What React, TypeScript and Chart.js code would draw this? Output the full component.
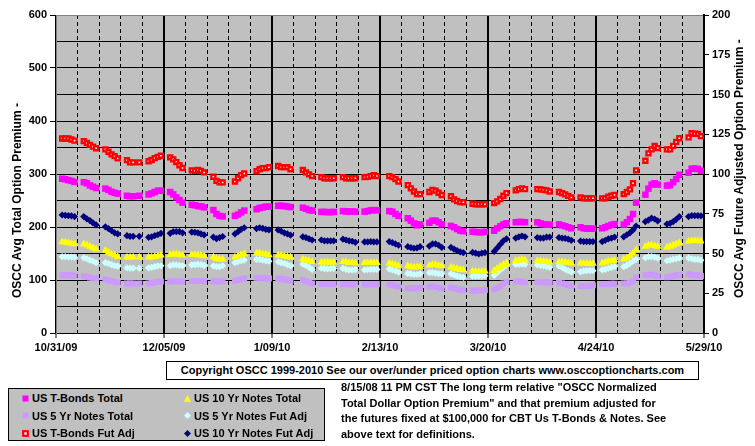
import { useEffect, useRef } from 'react';
import { Chart, registerables } from 'chart.js';

Chart.register(...registerables);

// x axis: days after Sat 10/31/09; labels every 5 weeks
const xTickLabels = ['10/31/09', '12/05/09', '1/09/10', '2/13/10', '3/20/10', '4/24/10', '5/29/10'];
const WEEK_COUNT = 30;
// trading days Mon..Fri of each week (holidays carry null values)
const tradingDays: number[] = [];
for (let w = 0; w < WEEK_COUNT; w++) for (let d = 0; d < 5; d++) tradingDays.push(2 + 7 * w + d);

// Left axis (Total Option Premium)
const tBondsTotal = [
  291, 290, 288.5, 287, 285, 284.5, 282.5, 278.5, 276, 273.5, 272.5, 270, 266.5, 264.5, 263,
  259, 258, 258, null, 259, 261.5, 263.5, 266, 268.5, 268.5, 266, 261.5, 256, 251, 246,
  242, 241, 239.5, 239, 237, 232, 224.5, 221, 220, null, 221, 223.5, 227.5, 231, null,
  233.5, 236, 237, 238.5, 238.5, 240, 240, 239.5, 238.5, 237.5, null, 236.5, 234.5, 232, 231,
  228.5, 228.5, 228, 228, 228.5, 230, 229.5, 229, 229, 229, 229, 230, 231.5, 232, 231.5,
  null, 230, 229, 224.5, 221, 216.5, 212, 207, 203, 205, 208, 212, 212, 209, 205,
  202, 199.5, 196, 193, 192, 191, 190.5, 190, 190, 191, 193, 197.5, 201.5, 205, 207,
  209, 209.5, 209.5, 209, null, 209, 207, 205, 204.5, 204.5, 205, 203, 201.5, 199.5, 197.5,
  199.5, 197.5, 197, 197, 197, 197.5, 199.5, 202, 204, 205.5, 204.5, 209, 215, 224.5, 246,
  261, 272.5, 280, 282.5, 280, 278, 279, 284.5, 290.5, 298.5, 302.5, 310, 310.5, 309.5, 306,
];
const tenYrTotal = [
  171.5, 171, 170.5, 169, 168, 168, 166, 163, 160.5, 158, 155.5, 152, 149, 146.5, 144,
  143, 143, 143, null, 143, 143, 143, 144, 145.5, 146.5, 147.5, 149, 148.5, 147.5, 146.5,
  147.5, 147.5, 147, 146.5, 145.5, 143, 140, 139, 139, null, 143, 145.5, 147.5, 149, null,
  150.5, 150.5, 149, 148.5, 147, 146.5, 146, 145.5, 144, 143, null, 139, 137.5, 136.5, 134.5,
  133.5, 133.5, 133.5, 133.5, 133.5, 134.5, 134, 132.5, 132.5, 132, 132.5, 132.5, 132.5, 132.5, 132.5,
  null, 131.5, 130, 129, 126.5, 126.5, 125, 124, 124.5, 125, 127.5, 129, 129, 127.5, 126.5,
  124, 122, 121, 119.5, 119, 116.5, 115.5, 115.5, 115.5, 116.5, 117.5, 121.5, 125, 129, 132.5,
  136.5, 137.5, 138.5, 137.5, null, 136.5, 136, 135, 134.5, 133.5, 134.5, 134, 133.5, 132.5, 131.5,
  131.5, 131, 131, 131, 131, 131.5, 133.5, 135.5, 136.5, 137.5, 139, 141.5, 145.5, 150.5, 156.5,
  163, 165.5, 166, 164.5, 163, 161.5, 163, 165.5, 168, 170.5, 173, 174, 174, 174, 173,
];
const fiveYrTotal = [
  109, 109, 109, 109, 108, 107.5, 106, 104.5, 104, 103, 101.5, 99.5, 97.5, 96, 95,
  93.5, 93.5, 93.5, null, 93.5, 93.5, 94.5, 95.5, 97, 97, 97.5, 97.5, 97.5, 97.5, 97,
  98, 98, 98, 98, 97.5, 97.5, 97.5, 97.5, 97.5, null, 98.5, 100, 101.5, 102.5, null,
  104, 104, 104, 103, 103, 102.5, 101.5, 101.5, 100, 98.5, null, 100, 97.5, 95.5, 93.5,
  92.5, 92.5, 92.5, 92.5, 92.5, 92.5, 92, 92, 92, 92, 92, 92, 92, 92, 92,
  null, 92, 90.5, 89, 87.5, 84.5, 84.5, 84.5, 85, 85.5, 87.5, 87.5, 87.5, 86, 84.5,
  85.5, 84.5, 82.5, 81, 81, 80, 80, 80.5, 81, 81, 82.5, 85, 88.5, 93.5, 97,
  97, 97.5, 97, 95.5, null, 96, 96, 95.5, 96, 95, 95, 93.5, 92.5, 90.5, 89,
  88.5, 88.5, 88.5, 89, 90, 92, 92.5, 92.5, 93, 93, 93.5, 93.5, 95, 97.5, 105,
  109, 110, 110, 109, 107.5, 105, 106, 107.5, 109, 110, 111, 110, 109, 109, 107.5,
];

// Right axis (Future Adjusted Option Premium)
const fiveYrFutAdj = [
  48.0, 48.0, 47.8, 47.8, 47.7, 47.3, 46.7, 45.8, 45.2, 44.2, 44.2, 43.7, 43.0, 42.3, 42.0,
  41.0, 40.8, 40.8, null, 40.8, 41.0, 41.3, 41.7, 42.2, 42.3, 42.3, 42.8, 42.8, 42.5, 42.3,
  42.8, 43.0, 43.2, 43.0, 42.5, 42.2, 41.7, 41.7, 42.3, null, 44.2, 44.8, 45.5, 45.8, null,
  46.3, 46.3, 45.8, 45.5, 45.2, 44.8, 44.2, 43.7, 43.0, 42.3, null, 43.3, 42.5, 41.3, 40.0,
  40.8, 40.5, 40.3, 40.5, 40.7, 40.7, 40.0, 39.7, 39.7, 39.8, 39.7, 39.8, 40.0, 40.0, 40.0,
  null, 40.3, 39.7, 39.0, 38.3, 37.5, 37.2, 36.8, 36.8, 37.2, 38.0, 38.0, 37.7, 37.3, 37.2,
  37.2, 36.5, 35.8, 35.3, 35.0, 35.7, 35.7, 35.8, 35.8, 36.0, 36.3, 38.0, 39.7, 41.3, 42.8,
  43.2, 43.3, 43.3, 43.2, null, 42.8, 42.5, 42.2, 41.7, 41.3, 42.2, 41.3, 40.0, 39.2, 38.5,
  38.5, 39.0, 39.2, 39.2, 39.2, 39.7, 40.0, 40.7, 41.3, 41.7, 41.7, 42.5, 43.8, 45.2, 46.3,
  47.3, 48.0, 48.0, 47.7, 47.0, 45.5, 45.8, 46.3, 46.7, 47.2, 47.2, 46.7, 46.3, 46.3, 45.8,
];
const tBondsFutAdj = [
  122.3, 122.3, 122.3, 121.7, 121.0, 120.7, 119.5, 118.3, 117.2, 116.2, 115.5, 114.0, 112.3, 111.2, 109.8,
  108.7, 107.3, 107.3, null, 107.3, 108.0, 108.8, 110.0, 110.8, 111.5, 110.5, 109.2, 107.5, 105.5, 103.8,
  102.3, 102.0, 102.5, 102.0, 101.0, 98.3, 95.7, 94.7, 94.7, null, 95.3, 97.3, 99.3, 100.3, null,
  101.7, 103.0, 103.7, 103.7, 104.3, 105.0, 104.3, 104.3, 104.3, 103.0, null, 102.5, 101.0, 99.8, 98.7,
  98.0, 97.3, 97.3, 97.3, 97.3, 98.0, 97.3, 97.3, 97.3, 97.3, 98.0, 98.2, 98.7, 99.2, 98.7,
  null, 98.7, 98.0, 96.8, 95.3, 93.0, 91.0, 89.0, 87.3, 87.3, 88.7, 90.0, 89.5, 88.2, 86.8,
  86.0, 84.0, 83.0, 82.3, 82.2, 81.3, 81.0, 81.0, 81.0, 81.0, 81.7, 82.8, 84.3, 86.3, 88.0,
  89.7, 90.5, 91.0, 90.5, null, 90.5, 90.3, 90.0, 89.7, 89.0, 88.7, 88.0, 87.2, 86.2, 85.2,
  85.3, 84.7, 84.7, 84.7, 84.7, 84.7, 84.7, 85.7, 86.3, 86.8, 87.3, 88.7, 90.3, 94.2, 102.3,
  108.3, 113.0, 115.5, 117.7, 116.3, 115.5, 115.5, 117.7, 120.2, 122.5, 123.0, 125.7, 125.3, 125.2, 123.8,
];
const tenYrFutAdj = [
  74.2, 74.0, 73.8, 73.7, 73.2, 73.2, 71.8, 70.7, 69.2, 68.0, 66.8, 65.7, 64.3, 63.0, 62.3,
  61.2, 60.8, 60.8, null, 60.8, 60.2, 60.5, 61.2, 61.8, 62.7, 62.7, 63.7, 63.7, 63.7, 63.0,
  63.5, 63.3, 63.0, 62.3, 61.7, 60.3, 59.3, 60.0, 60.7, null, 62.3, 63.7, 65.2, 66.2, null,
  65.7, 66.2, 65.8, 65.2, 64.8, 64.8, 64.0, 63.0, 62.3, 61.5, null, 60.5, 60.0, 59.2, 58.5,
  58.5, 58.0, 58.0, 58.0, 58.0, 59.0, 58.5, 58.0, 57.7, 57.0, 57.3, 57.3, 57.5, 57.3, 57.3,
  null, 57.5, 56.8, 56.0, 55.2, 54.3, 53.7, 53.3, 53.5, 54.3, 54.7, 56.0, 56.0, 55.2, 53.8,
  53.8, 52.8, 51.8, 51.0, 50.5, 50.7, 50.2, 49.7, 50.2, 50.5, 51.3, 53.5, 55.8, 58.0, 59.2,
  59.7, 60.5, 61.0, 60.5, null, 60.0, 59.7, 59.7, 60.3, 60.3, 60.0, 59.7, 59.5, 59.0, 58.3,
  57.8, 57.5, 57.5, 57.5, 57.5, 57.5, 58.3, 59.2, 59.7, 60.3, 60.5, 61.8, 63.0, 64.8, 67.3,
  70.0, 71.0, 72.2, 71.7, 70.5, 68.5, 69.0, 70.0, 71.5, 73.2, 73.2, 73.8, 73.8, 73.8, 73.7,
];

const FONT = '"Liberation Sans", Arial, sans-serif';

type SeriesDef = {
  label: string;
  values: (number | null)[];
  axis: 'y' | 'y2';
  pointStyle: 'rect' | 'triangle' | 'rectRot';
  fill: string;
  stroke: string;
  radius: number;
  borderWidth: number;
};

const seriesDefs: SeriesDef[] = [
  { label: 'US T-Bonds Total', values: tBondsTotal, axis: 'y', pointStyle: 'rect', fill: '#FF00FF', stroke: '#FF00FF', radius: 4.6, borderWidth: 0 },
  { label: 'US 10 Yr Notes Total', values: tenYrTotal, axis: 'y', pointStyle: 'triangle', fill: '#FFFF00', stroke: '#FFFF00', radius: 4.5, borderWidth: 0 },
  { label: 'US 5 Yr Notes Total', values: fiveYrTotal, axis: 'y', pointStyle: 'rect', fill: '#CC99FF', stroke: '#CC99FF', radius: 4.2, borderWidth: 0 },
  { label: 'US 5 Yr Notes Fut Adj', values: fiveYrFutAdj, axis: 'y2', pointStyle: 'rectRot', fill: '#CCFFFF', stroke: '#CCFFFF', radius: 3.6, borderWidth: 0 },
  { label: 'US T-Bonds Fut Adj', values: tBondsFutAdj, axis: 'y2', pointStyle: 'rect', fill: '#FFFFFF', stroke: '#FF0000', radius: 2.8, borderWidth: 2.4 },
  { label: 'US 10 Yr Notes Fut Adj', values: tenYrFutAdj, axis: 'y2', pointStyle: 'rectRot', fill: '#000080', stroke: '#000080', radius: 3.6, borderWidth: 0 },
];

// legend layout order (two columns, as in the original)
const legendOrder = [
  ['US T-Bonds Total', 'US 10 Yr Notes Total'],
  ['US 5 Yr Notes Total', 'US 5 Yr Notes Fut Adj'],
  ['US T-Bonds Fut Adj', 'US 10 Yr Notes Fut Adj'],
];

const noteLines = [
  '8/15/08 11 PM CST The long term relative "OSCC Normalized',
  'Total Dollar Option Premium" and that premium adjusted for',
  'the futures fixed at $100,000 for CBT Us T-Bonds & Notes. See',
  'above text for definitions.',
];

const plotBg = {
  id: 'plotBg',
  beforeDraw(chart: any) {
    const { ctx, chartArea: a } = chart;
    ctx.save();
    ctx.fillStyle = '#C0C0C0';
    ctx.fillRect(a.left, a.top, a.right - a.left, a.bottom - a.top);
    ctx.restore();
  },
};

function Marker({ def }: { def: SeriesDef }) {
  const s = 9;
  let shape;
  if (def.pointStyle === 'triangle') {
    shape = <polygon points="4.5,1 8,8 1,8" fill={def.fill} />;
  } else if (def.pointStyle === 'rectRot') {
    shape = <polygon points="4.5,1 8,4.5 4.5,8 1,4.5" fill={def.fill} />;
  } else if (def.borderWidth > 0) {
    shape = <rect x={2.2} y={2.2} width={4.6} height={4.6} fill={def.fill} stroke={def.stroke} strokeWidth={2.2} />;
  } else {
    shape = <rect x={1.5} y={1.5} width={6} height={6} fill={def.fill} />;
  }
  return (
    <svg width={s} height={s} style={{ display: 'block' }}>
      {shape}
    </svg>
  );
}

export default function App() {
  const canvasRef = useRef<HTMLCanvasElement | null>(null);

  useEffect(() => {
    if (!canvasRef.current) return;
    const tickFont = { family: FONT, size: 11, weight: 'bold' as const };
    const chart = new Chart(canvasRef.current, {
      type: 'scatter',
      data: {
        datasets: seriesDefs.map((s) => ({
          label: s.label,
          data: tradingDays.map((x, i) => ({ x, y: s.values[i] as any })),
          yAxisID: s.axis,
          xAxisID: 'x',
          showLine: false,
          pointStyle: s.pointStyle,
          pointRadius: s.radius,
          pointHoverRadius: s.radius,
          pointBackgroundColor: s.fill,
          pointBorderColor: s.stroke,
          pointBorderWidth: s.borderWidth,
          backgroundColor: s.fill,
          borderColor: s.stroke,
        })),
      },
      options: {
        responsive: false,
        animation: false,
        devicePixelRatio: 1,
        layout: { padding: { top: 15, left: 0, right: 0, bottom: 0 } },
        plugins: { legend: { display: false }, tooltip: { enabled: false } },
        scales: {
          x: {
            type: 'linear',
            position: 'bottom',
            min: 0,
            max: 210,
            afterFit: (scale: any) => { scale.height = 27; },
            ticks: {
              stepSize: 35,
              autoSkip: false,
              maxRotation: 0,
              padding: 3,
              color: '#000',
              font: tickFont,
              callback: (v: any) => xTickLabels[Math.round(Number(v) / 35)] ?? '',
            },
            grid: { color: '#000', lineWidth: 2, drawTicks: true, tickLength: 5, tickColor: '#000', tickWidth: 1 },
            border: { color: '#000', width: 1 },
          },
          xw: {
            type: 'linear',
            position: 'bottom',
            min: 0,
            max: 210,
            afterFit: (scale: any) => { scale.height = 0; },
            ticks: { stepSize: 7, display: false },
            grid: { color: '#000', lineWidth: 1, drawTicks: false },
            border: { display: false, dash: [4, 3] },
          },
          y: {
            type: 'linear',
            position: 'left',
            min: 0,
            max: 600,
            afterFit: (scale: any) => { scale.width = 56; },
            ticks: {
              stepSize: 50,
              padding: 3,
              color: '#000',
              font: tickFont,
              callback: (v: any) => (Number(v) % 100 === 0 ? String(v) : ''),
            },
            grid: {
              color: (c: any) => (c.tick && c.tick.value === 600 ? '#808080' : '#000'),
              lineWidth: 1,
              tickLength: 6,
              tickColor: (c: any) => (c.tick && c.tick.value % 100 === 0 ? '#000' : 'rgba(0,0,0,0)'),
            },
            border: { color: '#808080', width: 1 },
          },
          y2: {
            type: 'linear',
            position: 'right',
            min: 0,
            max: 200,
            afterFit: (scale: any) => { scale.width = 51; },
            ticks: { stepSize: 25, padding: 3, color: '#000', font: tickFont },
            grid: { drawOnChartArea: false, tickLength: 5, tickColor: '#000' },
            border: { color: '#000', width: 2 },
          },
        },
      } as any,
      plugins: [plotBg],
    });
    return () => chart.destroy();
  }, []);

  const bold = { fontFamily: FONT, fontWeight: 'bold' as const, color: '#000' };
  const byLabel = (l: string) => seriesDefs.find((s) => s.label === l)!;

  return (
    <div style={{ position: 'absolute', left: 0, top: 0, width: 755, height: 446, background: '#fff', overflow: 'hidden' }}>
      <canvas ref={canvasRef} width={755} height={360} style={{ position: 'absolute', left: 0, top: 0, width: 755, height: 360 }} />
      <div style={{ ...bold, fontSize: 12, position: 'absolute', left: 11, top: 298, whiteSpace: 'nowrap', transform: 'rotate(-90deg)', transformOrigin: 'left top', lineHeight: '13px' }}>
        OSCC Avg Total Option Premium -
      </div>
      <div style={{ ...bold, fontSize: 12, position: 'absolute', left: 733, top: 298, whiteSpace: 'nowrap', transform: 'rotate(-90deg)', transformOrigin: 'left top', lineHeight: '13px' }}>
        OSCC Avg Future Adjusted Option Premium -
      </div>
      <div style={{ ...bold, fontSize: 11, position: 'absolute', left: 166, top: 361, width: 531, height: 17, border: '1px solid #000', textAlign: 'center', lineHeight: '17px', whiteSpace: 'nowrap' }}>
        Copyright OSCC 1999-2010 See our over/under priced option charts www.osccoptioncharts.com
      </div>
      <div style={{ position: 'absolute', left: 8, top: 388, width: 315, height: 51, border: '1px solid #000', background: '#C0C0C0' }}>
        {legendOrder.map((row, r) =>
          row.map((label, c) => (
            <div key={label} style={{ position: 'absolute', left: c === 0 ? 12 : 174, top: 1 + r * 17.5, height: 16, display: 'flex', alignItems: 'center', whiteSpace: 'nowrap' }}>
              <Marker def={byLabel(label)} />
              <span style={{ ...bold, fontSize: 11, marginLeft: 2 }}>{label}</span>
            </div>
          ))
        )}
      </div>
      <div style={{ ...bold, fontSize: 11, position: 'absolute', left: 341, top: 380, lineHeight: '15.5px', whiteSpace: 'nowrap' }}>
        {noteLines.map((l, i) => (
          <div key={i}>{l}</div>
        ))}
      </div>
    </div>
  );
}
